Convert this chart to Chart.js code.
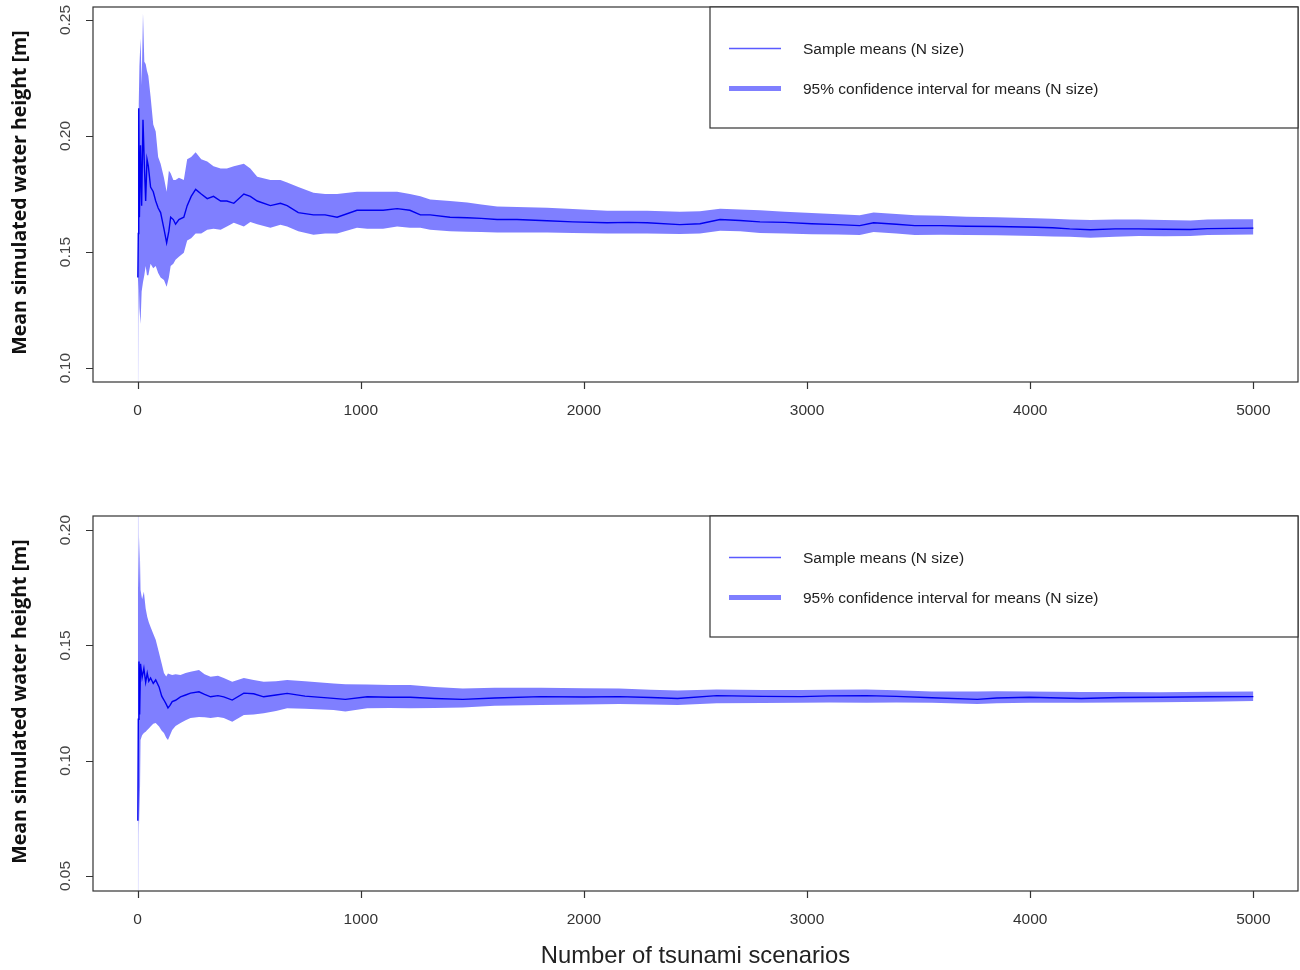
<!DOCTYPE html>
<html>
<head>
<meta charset="utf-8">
<script src="https://cdn.jsdelivr.net/npm/chart.js@4.4.1/dist/chart.umd.min.js"></script>
<style>
  html, body { margin: 0; padding: 0; background: #fff; }
  canvas { position: absolute; left: 0; }
  #topChart { top: 0; }
  #bottomChart { top: 470px; }
</style>
</head>
<body>
<canvas id="topChart" width="1300" height="470"></canvas>
<canvas id="bottomChart" width="1300" height="500"></canvas>
<script>
// ---- upper panel: running mean and 95% CI ----
const topN = [
  1, 3, 5, 8, 13, 18, 24, 30, 36, 42,
  48, 58, 70, 81, 92, 103, 118, 130, 140, 148,
  160, 170, 185, 207, 222, 240, 260, 285, 312, 340,
  372, 400, 431, 476, 505, 536, 595, 640, 670, 720,
  788, 840, 894, 983, 1029, 1100, 1163, 1220, 1267, 1311,
  1400, 1477, 1540, 1611, 1700, 1835, 1950, 2104, 2200, 2283,
  2430, 2520, 2610, 2700, 2789, 2900, 3020, 3140, 3236, 3298,
  3400, 3483, 3600, 3715, 3850, 4024, 4100, 4177, 4270, 4380,
  4486, 4600, 4718, 4794, 4900, 5000
];
const topMean = [
  0.139, 0.158, 0.212, 0.165, 0.196, 0.170, 0.207, 0.188, 0.172, 0.190,
  0.187, 0.178, 0.176, 0.172, 0.169, 0.167, 0.160, 0.154, 0.159, 0.165,
  0.164, 0.162, 0.164, 0.165, 0.170, 0.174, 0.177, 0.175, 0.173, 0.174,
  0.172, 0.172, 0.171, 0.175, 0.174, 0.172, 0.170, 0.171, 0.170, 0.167,
  0.166, 0.166, 0.165, 0.168, 0.168, 0.168, 0.1687, 0.168, 0.166, 0.166,
  0.165, 0.1648, 0.1645, 0.164, 0.164, 0.1635, 0.163, 0.1626, 0.1628, 0.1626,
  0.1618, 0.1622, 0.164, 0.1636, 0.163, 0.1628, 0.1622, 0.1618, 0.1614, 0.1626,
  0.162, 0.1614, 0.1614, 0.1611, 0.161, 0.1607, 0.1605, 0.16, 0.1596, 0.16,
  0.16, 0.1598, 0.1597, 0.1601, 0.1602, 0.1603
];
const topUpper = [
  0.214, 0.205, 0.214, 0.230, 0.242, 0.222, 0.253, 0.232, 0.231, 0.228,
  0.226, 0.217, 0.205, 0.202, 0.191, 0.188, 0.182, 0.176, 0.185, 0.184,
  0.181, 0.181, 0.182, 0.181, 0.190, 0.191, 0.193, 0.190, 0.189, 0.187,
  0.186, 0.186, 0.187, 0.188, 0.186, 0.1825, 0.181, 0.181, 0.180, 0.178,
  0.1756, 0.175, 0.175, 0.176, 0.176, 0.176, 0.176, 0.175, 0.174, 0.1726,
  0.172, 0.1713, 0.1705, 0.1696, 0.1694, 0.1691, 0.1685, 0.1678, 0.1678, 0.1678,
  0.1674, 0.1676, 0.1687, 0.1683, 0.168, 0.1674, 0.1668, 0.1663, 0.1659, 0.167,
  0.1664, 0.1659, 0.1656, 0.1652, 0.165, 0.1646, 0.1643, 0.164, 0.1638, 0.164,
  0.164, 0.1638, 0.1636, 0.164, 0.1641, 0.1641
];
const topLower = [
  0.050, 0.119, 0.138, 0.126, 0.119, 0.133, 0.137, 0.140, 0.144, 0.140,
  0.140, 0.145, 0.143, 0.144, 0.141, 0.139, 0.138, 0.135, 0.139, 0.144,
  0.145, 0.1467, 0.148, 0.1497, 0.155, 0.156, 0.158, 0.158, 0.1596, 0.160,
  0.1596, 0.161, 0.1626, 0.161, 0.163, 0.162, 0.1605, 0.1618, 0.161, 0.159,
  0.1575, 0.158, 0.158, 0.1605, 0.160, 0.160, 0.161, 0.1605, 0.1605, 0.1596,
  0.159, 0.1588, 0.1586, 0.1584, 0.1584, 0.1584, 0.1582, 0.158, 0.158, 0.158,
  0.1578, 0.158, 0.1592, 0.159, 0.1582, 0.158, 0.1577, 0.1576, 0.1574, 0.1586,
  0.158, 0.1574, 0.1575, 0.1574, 0.1572, 0.1569, 0.1567, 0.1566, 0.1562, 0.1566,
  0.1569, 0.1568, 0.1569, 0.1574, 0.1575, 0.1576
];

// ---- lower panel ----
const bottomN = [
  1, 3, 6, 9, 13, 20, 28, 36, 43, 50,
  58, 70, 81, 96, 108, 118, 128, 136, 145, 155,
  170, 192, 215, 237, 275, 300, 327, 360, 386, 424,
  476, 520, 565, 620, 670, 750, 878, 931, 1029, 1130,
  1222, 1330, 1457, 1600, 1807, 2000, 2158, 2300, 2420, 2595,
  2800, 2973, 3100, 3266, 3400, 3559, 3763, 3850, 3996, 4229,
  4400, 4579, 4800, 5000
];
const bottomMean = [
  0.074, 0.118, 0.143, 0.120, 0.142, 0.136, 0.140, 0.134, 0.138, 0.1345,
  0.1359, 0.1335, 0.135, 0.132, 0.128, 0.1263, 0.1245, 0.1229, 0.124, 0.1256,
  0.1262, 0.1277, 0.1285, 0.1293, 0.1299, 0.1288, 0.1277, 0.1282, 0.1277, 0.1263,
  0.1293, 0.129, 0.1277, 0.1285, 0.1292, 0.128, 0.127, 0.1266, 0.1277, 0.1275,
  0.1275, 0.127, 0.1266, 0.1272, 0.1278, 0.1276, 0.1278, 0.1274, 0.127, 0.1282,
  0.1279, 0.1278, 0.1281, 0.1282, 0.1279, 0.1273, 0.1266, 0.1272, 0.1275, 0.127,
  0.1274, 0.1275, 0.1277, 0.1278
];
const bottomUpper = [
  0.260, 0.198, 0.175, 0.197, 0.174, 0.170, 0.1733, 0.166, 0.1624, 0.160,
  0.158, 0.155, 0.1524, 0.1467, 0.142, 0.138, 0.1365, 0.1378, 0.1375, 0.1372,
  0.1375, 0.1372, 0.138, 0.1386, 0.1393, 0.1375, 0.1364, 0.1368, 0.1359, 0.1342,
  0.1359, 0.135, 0.1342, 0.1345, 0.135, 0.1345, 0.1335, 0.1331, 0.133, 0.1328,
  0.1328, 0.132, 0.1313, 0.1316, 0.1316, 0.1314, 0.1313, 0.1308, 0.1304, 0.1309,
  0.1307, 0.1306, 0.1308, 0.1309, 0.1305, 0.13, 0.13, 0.1301, 0.13, 0.1298,
  0.1298, 0.1297, 0.1299, 0.13
];
const bottomLower = [
  -0.020, 0.068, 0.090, 0.072, 0.109, 0.111, 0.112, 0.1125, 0.1133, 0.114,
  0.1148, 0.116, 0.1163, 0.1148, 0.113, 0.112, 0.110, 0.109, 0.111, 0.1133,
  0.115, 0.1163, 0.1175, 0.1185, 0.119, 0.1188, 0.1185, 0.119, 0.1185, 0.1169,
  0.1198, 0.12, 0.1206, 0.1215, 0.1227, 0.1225, 0.122, 0.1213, 0.1227, 0.1228,
  0.1227, 0.1229, 0.1231, 0.1238, 0.1242, 0.1244, 0.1246, 0.1244, 0.1242, 0.1249,
  0.125, 0.1251, 0.1252, 0.1251, 0.1252, 0.1251, 0.1246, 0.1249, 0.1251, 0.1251,
  0.1252, 0.1253, 0.1256, 0.1259
];

const xTicks = [0, 1000, 2000, 3000, 4000, 5000];
const topYTicks = [0.10, 0.15, 0.20, 0.25];
const bottomYTicks = [0.05, 0.10, 0.15, 0.20];

const yTitle = 'Mean simulated water height [m]';
const xTitle = 'Number of tsunami scenarios';
const legendLabels = ['Sample means (N size)', '95% confidence interval for means (N size)'];

const BAND = '#7f7fff';
const MEAN = '#0000f0';
const INK = '#333';

const pts = (xs, ys) => xs.map((x, i) => ({ x, y: ys[i] }));

// R-style box, outward ticks, rotated y labels and the legend box
const rFrame = {
  id: 'rFrame',
  afterDraw(chart, args, o) {
    const { ctx, chartArea: a, scales: { x, y } } = chart;
    ctx.save();
    ctx.strokeStyle = INK;
    ctx.lineWidth = 1.2;
    ctx.strokeRect(a.left, a.top, a.right - a.left, a.bottom - a.top);

    ctx.beginPath();
    xTicks.forEach(v => {
      const px = Math.round(x.getPixelForValue(v)) + 0.5;
      ctx.moveTo(px, a.bottom); ctx.lineTo(px, a.bottom + 7);
    });
    o.yTicks.forEach(v => {
      const py = Math.round(y.getPixelForValue(v)) + 0.5;
      ctx.moveTo(a.left, py); ctx.lineTo(a.left - 7, py);
    });
    ctx.stroke();

    ctx.fillStyle = INK;
    ctx.font = '15.5px "Liberation Sans", Arial, sans-serif';
    ctx.textAlign = 'center';
    ctx.textBaseline = 'middle';
    xTicks.forEach(v => ctx.fillText(String(v), x.getPixelForValue(v), a.bottom + 29));
    ctx.fillStyle = '#444';
    o.yTicks.forEach(v => {
      ctx.save();
      ctx.translate(a.left - 27, y.getPixelForValue(v));
      ctx.rotate(-Math.PI / 2);
      ctx.fillText(v.toFixed(2), 0, 0);
      ctx.restore();
    });

    // axis title
    ctx.save();
    ctx.fillStyle = '#111';
    ctx.font = 'bold 19.5px "Open Sans", sans-serif';
    ctx.translate(a.left - 73, (a.top + a.bottom) / 2 - 2);
    ctx.rotate(-Math.PI / 2);
    ctx.fillText(yTitle, 0, 0);
    ctx.restore();

    // legend
    const lx = 710, ly = a.top;
    ctx.fillStyle = '#fff';
    ctx.fillRect(lx, ly, a.right - lx, 121);
    ctx.strokeRect(lx, ly, a.right - lx, 121);
    ctx.lineCap = 'butt';
    ctx.strokeStyle = '#5a5aff';
    ctx.lineWidth = 1.5;
    ctx.beginPath(); ctx.moveTo(729, ly + 41.5); ctx.lineTo(781, ly + 41.5); ctx.stroke();
    ctx.strokeStyle = BAND;
    ctx.lineWidth = 5;
    ctx.beginPath(); ctx.moveTo(729, ly + 81.5); ctx.lineTo(781, ly + 81.5); ctx.stroke();
    ctx.fillStyle = '#222';
    ctx.textAlign = 'left';
    ctx.font = '15.5px "Liberation Sans", Arial, sans-serif';
    ctx.fillText(legendLabels[0], 803, ly + 43);
    ctx.fillText(legendLabels[1], 803, ly + 83);

    if (o.xTitle) {
      ctx.textAlign = 'center';
      ctx.fillStyle = '#222';
      ctx.font = '23.8px "Liberation Sans", Arial, sans-serif';
      ctx.fillText(xTitle, (a.left + a.right) / 2, o.xTitleY);
    }
    ctx.restore();
  }
};

function panel(id, ns, lo, hi, mean, yMin, yMax, padding, frameOpts) {
  return new Chart(document.getElementById(id), {
    type: 'line',
    data: {
      datasets: [
        // band: lower edge, upper edge filled down to it
        { data: pts(ns, lo), borderWidth: 0, pointRadius: 0, fill: false, order: 2 },
        { data: pts(ns, hi), borderWidth: 0, pointRadius: 0, fill: '-1', backgroundColor: BAND, order: 1 },
        // running mean on top
        { data: pts(ns, mean), borderColor: MEAN, borderWidth: 1.4, pointRadius: 0, fill: false, order: 0 }
      ]
    },
    options: {
      responsive: false,
      animation: false,
      devicePixelRatio: 1,
      layout: { padding },
      elements: { line: { tension: 0 } },
      plugins: { legend: { display: false }, tooltip: { enabled: false }, rFrame: frameOpts },
      scales: {
        x: { type: 'linear', min: -200, max: 5200, display: false },
        y: { min: yMin, max: yMax, display: false }
      }
    },
    plugins: [rFrame]
  });
}

panel('topChart', topN, topLower, topUpper, topMean, 0.0940, 0.2556,
  { left: 93, right: 2, top: 7, bottom: 88 }, { yTicks: topYTicks });
panel('bottomChart', bottomN, bottomLower, bottomUpper, bottomMean, 0.0435, 0.2061,
  { left: 93, right: 2, top: 46, bottom: 79 }, { yTicks: bottomYTicks, xTitle: true, xTitleY: 486 });
</script>
</body>
</html>
